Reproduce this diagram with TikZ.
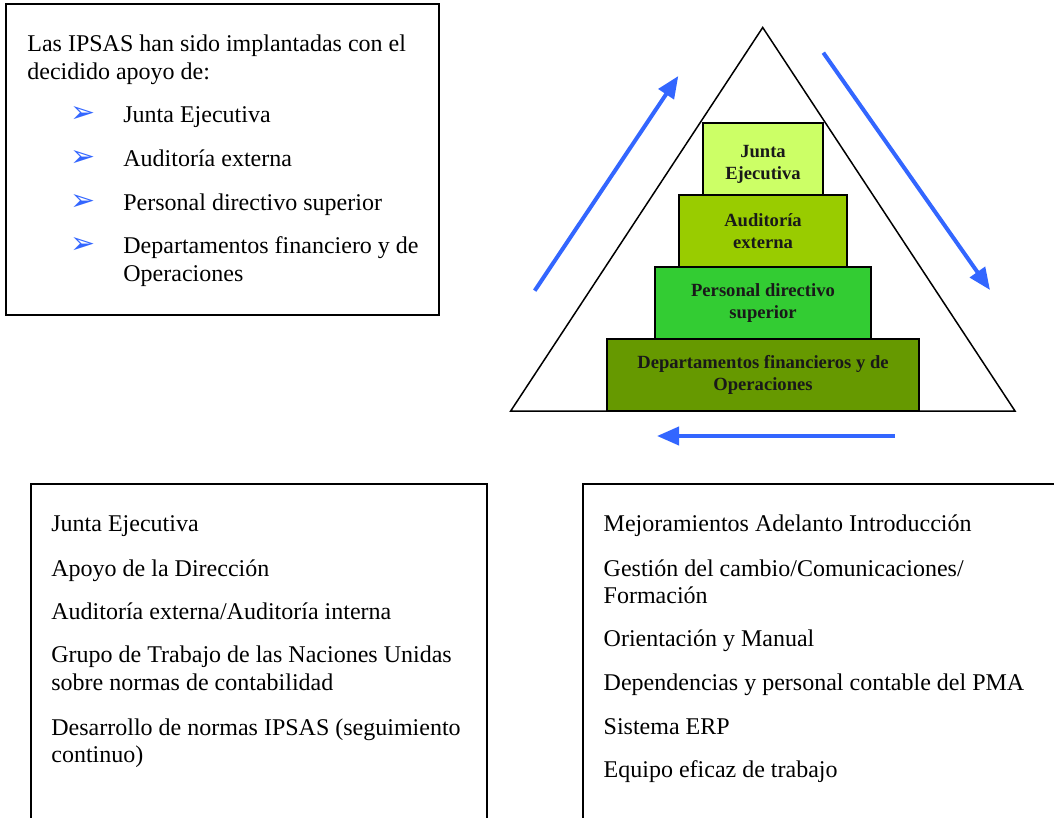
\documentclass[tikz,border=0pt]{standalone}
\usepackage{fontspec}
\setmainfont{Liberation Serif}
\newfontfamily\dejavu{DejaVu Sans}
\usepackage{xcolor}
\usepackage{tikz}
\usetikzlibrary{arrows.meta}
\definecolor{ipsasblue}{HTML}{3366FF}
\definecolor{juntagreen}{HTML}{CCFF66}
\definecolor{auditgreen}{HTML}{99CC00}
\definecolor{personalgreen}{HTML}{33CC33}
\definecolor{deptgreen}{HTML}{669900}
% dos lineas con la base en la primera
\newcommand{\twoline}[2]{\vtop{\hbox{#1}\hbox{#2}}}

\begin{document}
\begin{tikzpicture}[x=0.5pt,y=-0.5pt,font=\fontsize{12}{13.8}\selectfont,
    panel/.style={draw,line width=0.75pt},
    item/.style={anchor=base west,inner sep=0pt},
    tier/.style={draw,line width=1pt,minimum height=36pt,inner sep=0pt,align=center,
      font=\fontsize{9.3}{11.2}\selectfont\bfseries,text=black!90},
    flow/.style={ipsasblue,line width=2pt,-{Triangle[length=11pt,width=9pt]}},
    pointer/.style={text=ipsasblue,inner sep=0pt,font=\dejavu\fontsize{15}{15}\selectfont}]
    \useasboundingbox (0,0) rectangle (1054,818);
    % apoyo a las IPSAS
    \draw[panel] (6,4) rectangle (439,315);
    \node[item] (intro) at (27,52) {\twoline{Las IPSAS han sido implantadas con el}{decidido apoyo de:}};
    \foreach \y/\txt [count=\i] in {123/Junta Ejecutiva,167/Auditoría externa,
        211/Personal directivo superior,254/{\twoline{Departamentos financiero y de}{Operaciones}}} {
      \node[pointer] (bullet\i) at (83,\y-8) {➢};
      \node[item] (support\i) at (123,\y) {\txt};
    }
    % piramide
    \coordinate (apex) at (762.7,27.5);
    \coordinate (baseL) at (510.7,411);
    \coordinate (baseR) at (1015,411);
    \draw[line width=0.75pt] (baseL) -- (apex) -- (baseR) -- cycle;
    \node[tier,fill=deptgreen,minimum width=156.3pt] (dept) at (763,375.2) {Departamentos financieros y de\\Operaciones};
    \node[tier,fill=personalgreen,minimum width=108pt] (personal) at (763,303.2) {Personal directivo\\superior};
    \node[tier,fill=auditgreen,minimum width=84pt] (audit) at (763,231) {Auditoría\\externa};
    \node[tier,fill=juntagreen,minimum width=60.3pt] (junta) at (763,159.2) {\rule{0pt}{11.3pt}Junta\\Ejecutiva};
    % flechas
    \coordinate (upS) at (534.7,290.7);
    \coordinate (upE) at (678.3,76);
    \coordinate (downS) at (823.3,52.7);
    \coordinate (downE) at (990,290);
    \coordinate (backS) at (895,436);
    \coordinate (backE) at (657,436);
    \draw[flow] (upS) -- (upE);
    \draw[flow] (downS) -- (downE);
    \draw[flow] (backS) -- (backE);
    % cajas inferiores
    \draw[panel] (31,484) rectangle (487,840);
    \foreach \y/\txt [count=\i] in {531.7/Junta Ejecutiva,576/Apoyo de la Dirección,
        619/{Auditoría externa/Auditoría interna},
        662.7/{\twoline{Grupo de Trabajo de las Naciones Unidas}{sobre normas de contabilidad}},
        735/{\twoline{Desarrollo de normas IPSAS (seguimiento}{continuo)}}}
      \node[item] (factor\i) at (51,\y) {\txt};
    \draw[panel] (583,484) rectangle (1070,840);
    \foreach \y/\txt [count=\i] in {531.7/Mejoramientos Adelanto Introducción,
        576/{\twoline{Gestión del cambio/Comunicaciones/}{Formación}},646/Orientación y Manual,
        690/Dependencias y personal contable del PMA,734.3/Sistema ERP,777.3/Equipo eficaz de trabajo}
      \node[item] (means\i) at (603.3,\y) {\txt};
\end{tikzpicture}
\end{document}
